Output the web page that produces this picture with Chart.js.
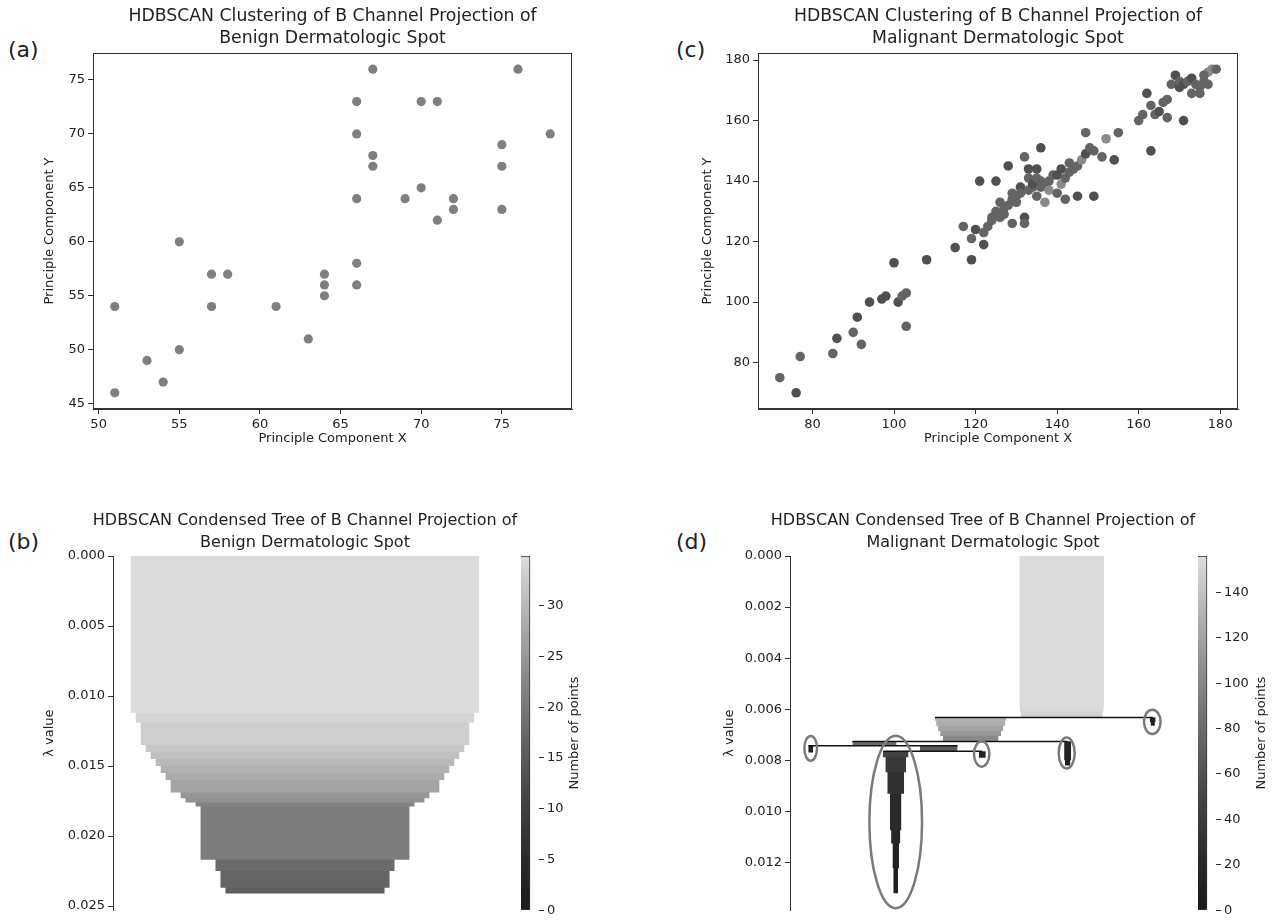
<!DOCTYPE html>
<html><head><meta charset="utf-8">
<script src="https://cdn.jsdelivr.net/npm/chart.js@4.4.1/dist/chart.umd.min.js"></script>
<style>
html,body{margin:0;padding:0;background:#fff;}
body{width:1277px;height:921px;position:relative;overflow:hidden;font-family:"DejaVu Sans",sans-serif;}
canvas{position:absolute;}
.lbl{position:absolute;font-size:22px;color:#222;line-height:26px;}
</style></head><body>
<div class="lbl" style="left:8px;top:37px">(a)</div>
<div class="lbl" style="left:676px;top:37px">(c)</div>
<div class="lbl" style="left:8px;top:529px">(b)</div>
<div class="lbl" style="left:676px;top:529px">(d)</div>
<canvas id="ca" width="640" height="460" style="left:0;top:0"></canvas>
<canvas id="cc" width="637" height="460" style="left:640px;top:0"></canvas>
<canvas id="cb" width="560" height="451" style="left:0;top:470px"></canvas>
<canvas id="cd" width="560" height="451" style="left:660px;top:470px"></canvas>
<canvas id="cbb" width="100" height="381" style="left:505px;top:540px"></canvas>
<canvas id="cbd" width="92" height="381" style="left:1185px;top:540px"></canvas>
<script>
// ---------------- data ----------------
const benignX = [51,51,53,54,55,55,57,57,58,61,63,64,64,64,66,66,66,66,66,67,67,67,69,70,70,71,71,72,72,75,75,75,76,78];
const benignY = [54,46,49,47,60,50,57,54,57,54,51,57,56,55,73,70,64,58,56,76,68,67,64,73,65,73,62,64,63,69,67,63,76,70];

const malignantX = [72,76,77,85,86,90,91,92,94,97,98,100,101,102,103,103,108,
 115,117,119,119,120,121,122,122,123,124,124,125,125,126,126,127,127,128,128,129,129,129,130,130,131,131,132,132,132,133,133,133,134,134,135,135,135,136,136,136,137,137,138,138,139,140,140,141,141,142,142,143,143,144,145,145,146,147,147,148,149,149,151,152,154,155,
 160,161,162,163,163,164,165,166,167,167,168,169,170,170,171,171,172,173,173,174,175,175,176,177,177,178,179,176];
const malignantY = [75,70,82,83,88,90,95,86,100,101,102,113,100,102,103,92,114,
 118,125,121,114,124,140,119,123,125,127,128,140,130,133,128,131,129,145,132,136,134,126,133,135,138,136,148,128,126,144,141,137,138,139,144,135,141,151,138,140,133,139,137,140,142,142,136,144,139,141,134,146,143,144,135,145,147,149,156,151,135,150,148,154,147,156,
 160,162,169,165,150,162,163,166,167,161,172,175,171,173,172,160,173,169,174,172,169,171,173,172,176,177,177,175];
const malignantStrength = [0.85,1,0.85,0.85,1,0.85,1,0.85,1,1,1,1,1,0.85,0.85,0.85,1,
 1,0.85,0.85,1,1,1,1,0.85,0.85,0.85,0.85,1,0.85,0.85,0.85,0.85,0.85,1,0.85,0.85,0.85,0.85,0.85,0.85,1,0.85,0.85,1,0.85,1,0.85,0.85,0.85,1,1,0.85,0.85,1,0.85,0.85,0.55,0.85,0.55,0.85,0.85,1,0.85,1,0.55,0.85,0.85,0.85,0.85,0.85,1,0.85,0.55,1,0.85,0.85,1,0.85,0.85,0.55,1,0.85,
 0.85,0.85,1,0.85,1,0.85,1,0.85,0.85,0.85,0.85,1,1,0.85,1,1,0.85,0.85,1,0.85,0.85,0.85,0.85,0.85,0.55,0.55,0.85,0.85];

// condensed tree, benign: lambda breakpoints and points remaining in each step
const benignLambda = [0,0.0112,0.0119,0.0135,0.0140,0.0145,0.0150,0.0155,0.0160,0.0169,0.0173,0.0176,0.0179,0.0217,0.0225,0.0237,0.0241];
const benignSize = [35,34,33,32,31,30,29,28,27,25,24,22,21,18,17,16];
const benignMax = 34.9;

// condensed tree, malignant: bars (tree-layout centre, lambda from/to, points)
const malBarCentre = [498.7,498.7,498.7, 331.6,331.6,331.6,331.6,331.6, 665.5,665.5, 155, 509.5,509.5, 38, 273, 194,194,194,194,194,194,194, 352.8];
const malBarFrom   = [0,0.0059,0.0061, 0.00632,0.00645,0.00665,0.00685,0.00705, 0.00632,0.0065, 0.00726, 0.00726,0.0080, 0.00743, 0.00743, 0.00765,0.00788,0.00847,0.00931,0.01074,0.01126,0.01223, 0.00765];
const malBarTo     = [0.0059,0.0061,0.00632, 0.00645,0.00665,0.00685,0.00705,0.00726, 0.0065,0.00665, 0.00743, 0.0080,0.0082, 0.00769, 0.00765, 0.00788,0.00847,0.00931,0.01074,0.01126,0.01223,0.01321, 0.0079];
const malBarSize   = [156,154,150, 131,127,120,112,102, 11,8, 81, 13,10, 9, 69, 47,38,31,21,17,12,9, 13];
const malMax = 156;
// split lines
const malLineLambda = [0.00632,0.00726,0.00743,0.00765];
const malLineFrom   = [266,114.3,33.6,171.2];
const malLineTo     = [665.5,509.5,307.7,352.8];
// selected clusters (rings)
const malRingX  = [194,507.7,351.7,664.8,38];
const malRingL  = [0.010414,0.007714,0.007753,0.006495,0.007531];
const malRingRx = [48.3,14.7,14.1,15.2,11.6];
const malRingRl = [0.003378,0.000604,0.000495,0.000475,0.000487];

// ---------------- helpers ----------------
const FONT = '"DejaVu Sans", sans-serif';
Chart.defaults.font.family = FONT;
Chart.defaults.color = '#222';
Chart.defaults.animation = false;

// grey colour map (dark -> light)
function greyVal(t){ t=Math.max(0,Math.min(1,t)); return Math.round(28+192*Math.pow(t,1.34)); }
function greyAt(t){ const g=greyVal(t); return 'rgb('+g+','+g+','+g+')'; }

const fixW = w => s => { s.width = w; };
const fixH = h => s => { s.height = h; };
const tickFont = {size:13};
const axisTitleFont = {size:13};
const gridOpts = {drawOnChartArea:false, drawTicks:true, tickLength:5, color:'#333'};
const borderOpts = {color:'#333', width:1};

const framePlugin = {id:'frame', afterDatasetsDraw(chart,args,opts){
  if(!opts || !opts.on) return;
  const {ctx, chartArea:a} = chart;
  ctx.save(); ctx.strokeStyle='#333'; ctx.lineWidth=1;
  const l=Math.round(a.left)+0.5, t=Math.round(a.top)+0.5, r=Math.round(a.right)-0.5, b=Math.round(a.bottom)-0.5;
  ctx.strokeRect(l,t,r-l,b-t); ctx.restore();
}};
const titlePlugin = {id:'panelTitle', afterDraw(chart,args,opts){
  if(!opts || !opts.lines) return;
  const {ctx, chartArea:a} = chart;
  ctx.save(); ctx.fillStyle='#222'; ctx.font=opts.size+'px '+FONT; ctx.textAlign='center'; ctx.textBaseline='middle';
  const cx=(a.left+a.right)/2;
  opts.lines.forEach((t,i)=>ctx.fillText(t,cx,opts.y+i*22));
  ctx.restore();
}};
const ringPlugin = {id:'rings', afterDatasetsDraw(chart,args,opts){
  if(!opts || !opts.xs) return;
  const {ctx, scales:{x,y}} = chart;
  ctx.save(); ctx.strokeStyle='#7a7a7a'; ctx.lineWidth=2.5;
  opts.xs.forEach((v,i)=>{
    const cx=x.getPixelForValue(v), cy=y.getPixelForValue(opts.ls[i]);
    const rx=Math.abs(x.getPixelForValue(v+opts.rxs[i])-cx);
    const ry=Math.abs(y.getPixelForValue(opts.ls[i]+opts.rls[i])-cy);
    ctx.beginPath(); ctx.ellipse(cx,cy,rx,ry,0,0,Math.PI*2); ctx.stroke();
  });
  ctx.restore();
}};
const cbLabelPlugin = {id:'cbLabel', afterDraw(chart,args,opts){
  if(!opts || !opts.text) return;
  const {ctx, chartArea:a} = chart;
  ctx.save(); ctx.fillStyle='#222'; ctx.font='13px '+FONT; ctx.textAlign='center'; ctx.textBaseline='middle';
  ctx.translate(opts.x,(a.top+a.bottom)/2); ctx.rotate(-Math.PI/2); ctx.fillText(opts.text,0,0); ctx.restore();
}};

function scatterChart(id, xs, ys, colors, radius, xr, yr, step, title, pad, yW){
  const pts = xs.map((x,i)=>({x:x, y:ys[i]}));
  return new Chart(document.getElementById(id), {
    type:'scatter',
    data:{datasets:[{data:pts, backgroundColor:colors, borderWidth:0, pointRadius:radius, pointHoverRadius:radius}]},
    options:{responsive:false, animation:false, events:[],
      layout:{padding:pad},
      plugins:{legend:{display:false}, tooltip:{enabled:false}, title:{display:false}, frame:{on:true}, panelTitle:{lines:title, y:17, size:17.3}},
      scales:{
        x:{type:'linear', min:xr[0], max:xr[1], afterFit:fixH(41),
           ticks:{stepSize:step, includeBounds:false, font:tickFont, color:'#222', padding:3, maxRotation:0},
           grid:gridOpts, border:borderOpts,
           title:{display:true, text:'Principle Component X', font:axisTitleFont, color:'#222', padding:{top:4,bottom:4}}},
        y:{type:'linear', min:yr[0], max:yr[1], afterFit:fixW(yW),
           ticks:{stepSize:step, includeBounds:false, font:tickFont, color:'#222', padding:3},
           grid:gridOpts, border:borderOpts,
           title:{display:true, text:'Principle Component Y', font:axisTitleFont, color:'#222', padding:{top:4,bottom:4}}}
      }},
    plugins:[framePlugin, titlePlugin]
  });
}

// ---------------- (a) ----------------
scatterChart('ca', benignX, benignY, '#7f7f7f', 4.6, [49.65,79.35], [44.5,77.5], 5,
  ['HDBSCAN Clustering of B Channel Projection of','Benign Dermatologic Spot'],
  {left:38, top:53, right:68, bottom:10}, 55);

// ---------------- (c) ----------------
const malColors = malignantStrength.map(s=>{const g=Math.round(80+(1-s)*130); return 'rgb('+g+','+g+','+g+')';});
scatterChart('cc', malignantX, malignantY, malColors, 4.8, [66.65,184.35], [64.65,182.35], 20,
  ['HDBSCAN Clustering of B Channel Projection of','Malignant Dermatologic Spot'],
  {left:56, top:53, right:39, bottom:10}, 62);

// ---------------- tree helpers ----------------
function rectDs(x0,x1,l0,l1,color){
  return {data:[{x:x0,y:l1},{x:x1,y:l1}], fill:{value:l0}, backgroundColor:color, borderColor:color, borderWidth:0, pointRadius:0, tension:0};
}
function lineDs(x0,x1,l){
  return {data:[{x:x0,y:l},{x:x1,y:l}], fill:false, borderColor:'#111', borderWidth:1.5, pointRadius:0};
}
function treeChart(id, datasets, xr, yMax, yStep, title, pad, yW, rings){
  return new Chart(document.getElementById(id), {
    type:'line',
    data:{datasets:datasets},
    options:{responsive:false, animation:false, events:[],
      layout:{padding:pad},
      plugins:{legend:{display:false}, tooltip:{enabled:false}, title:{display:false}, panelTitle:{lines:title, y:51, size:16}, rings:rings||{}},
      scales:{
        x:{type:'linear', display:false, min:xr[0], max:xr[1]},
        y:{type:'linear', reverse:true, min:0, max:yMax, afterFit:fixW(yW),
           ticks:{stepSize:yStep, includeBounds:false, font:tickFont, color:'#222', padding:3, callback:v=>Number(v).toFixed(3)},
           grid:gridOpts, border:borderOpts,
           title:{display:true, text:'λ value', font:axisTitleFont, color:'#222', padding:{top:4,bottom:4}}}
      }},
    plugins:[ringPlugin, titlePlugin]
  });
}

// ---------------- (b) ----------------
const bDs = benignSize.map((n,i)=>rectDs(-n/2, n/2, 0, benignLambda[i+1], greyAt(n/benignMax)));
treeChart('cb', bDs, [-19.26,19.26], 0.0253, 0.005,
  ['HDBSCAN Condensed Tree of B Channel Projection of','Benign Dermatologic Spot'],
  {left:38, top:86, right:63, bottom:9}, 75);

// ---------------- (d) ----------------
const dDs = [];
malLineLambda.forEach((l,i)=>dDs.push(lineDs(malLineFrom[i], malLineTo[i], l)));
malBarSize.forEach((n,i)=>{
  const c = malBarCentre[i];
  let birth = malBarFrom[i];
  malBarCentre.forEach((cc,j)=>{ if(cc===c && malBarFrom[j]<birth) birth = malBarFrom[j]; });
  dDs.push(rectDs(c-n/2, c+n/2, birth, malBarTo[i], greyAt(n/malMax)));
});
treeChart('cd', dDs, [0,708.3], 0.01387, 0.002,
  ['HDBSCAN Condensed Tree of B Channel Projection of','Malignant Dermatologic Spot'],
  {left:58, top:86, right:44, bottom:9}, 72,
  {xs:malRingX, ls:malRingL, rxs:malRingRx, rls:malRingRl});

// ---------------- colorbars ----------------
function colorbar(id, maxV, step, pad, labelX){
  return new Chart(document.getElementById(id), {
    type:'bar',
    data:{labels:[''], datasets:[{data:[[0,maxV]], borderColor:'#333', borderWidth:1, borderSkipped:false,
      barPercentage:1, categoryPercentage:1,
      backgroundColor:(ctx)=>{
        const ca = ctx.chart.chartArea; if(!ca) return '#888';
        const g = ctx.chart.ctx.createLinearGradient(0,ca.bottom,0,ca.top);
        for(let k=0;k<=20;k++){ g.addColorStop(k/20, greyAt(k/20)); }
        return g;
      }}]},
    options:{responsive:false, animation:false, events:[],
      layout:{padding:pad},
      plugins:{legend:{display:false}, tooltip:{enabled:false}, cbLabel:{text:'Number of points', x:labelX}},
      scales:{
        x:{display:false, offset:false},
        y:{position:'right', min:0, max:maxV, afterFit:fixW(40),
           ticks:{stepSize:step, includeBounds:false, font:tickFont, color:'#222', padding:3},
           grid:gridOpts, border:{display:false}}
      }},
    plugins:[cbLabelPlugin]
  });
}
colorbar('cbb', benignMax, 5, {left:16, top:16, right:26, bottom:9}, 70);
colorbar('cbd', malMax, 20, {left:13, top:16, right:21, bottom:9}, 77);
</script>
</body></html>
